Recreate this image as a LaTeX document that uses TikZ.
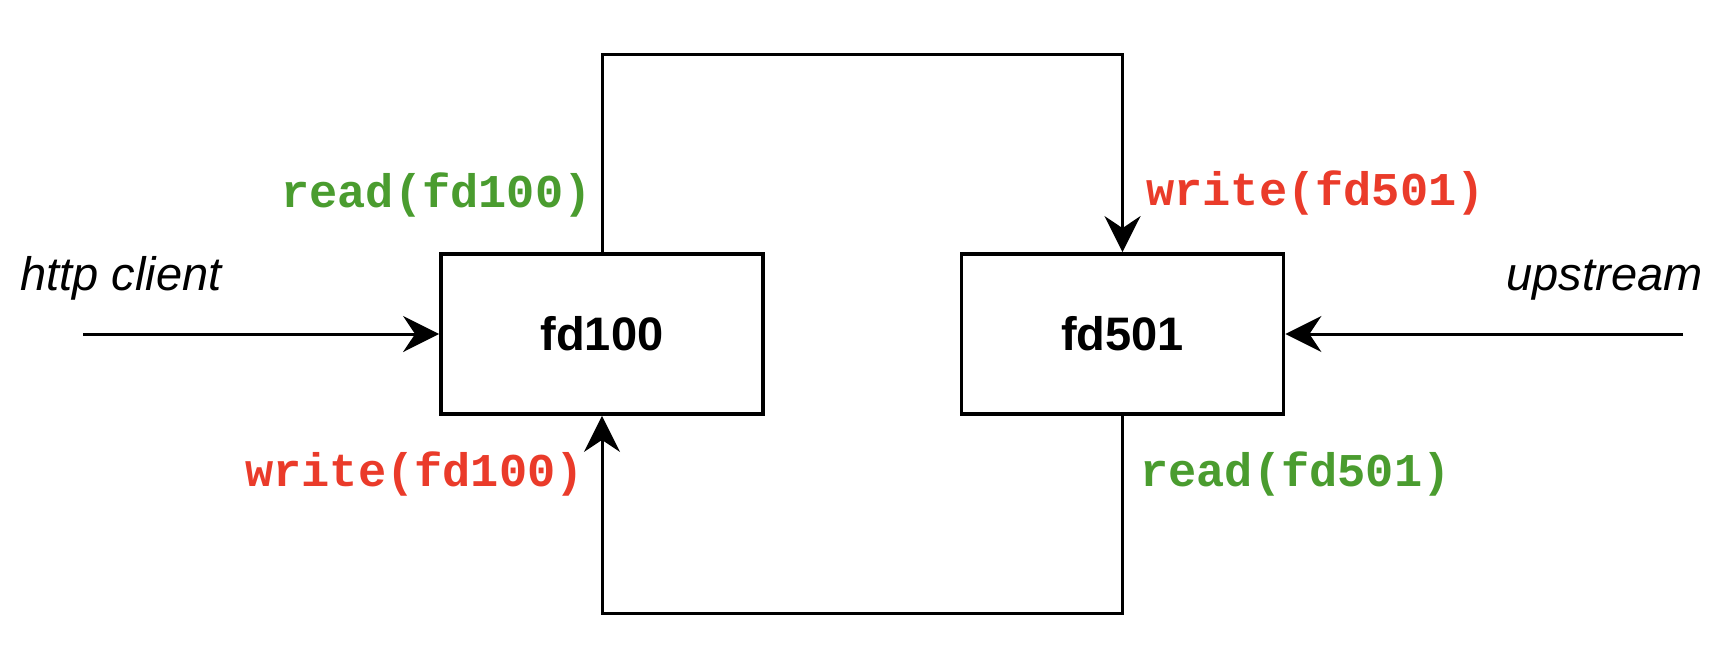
\documentclass[tikz,border=0pt]{standalone}
\usepackage{fontspec}
\setmainfont{Liberation Sans}
\setsansfont{Liberation Sans}
\setmonofont{Liberation Mono}
\usetikzlibrary{arrows.meta}
\definecolor{rdgreen}{HTML}{4A9C2F}
\definecolor{wrred}{HTML}{EA3B2A}
\tikzset{
  fdbox/.style={draw=black, line width=1.9pt, minimum width=161pt, minimum height=80pt, inner sep=0pt, font=\fontsize{23.5}{28}\selectfont\bfseries},
  conn/.style={line width=1.5pt, -{Stealth[length=18pt, width=18pt, inset=6pt]}},
  lbl/.style={inner sep=0pt, font=\fontsize{23.5}{28}\selectfont\itshape},
  rdlbl/.style={inner sep=0pt, text=rdgreen, font=\fontsize{23.5}{28}\selectfont\ttfamily\bfseries},
  wrlbl/.style={inner sep=0pt, text=wrred, font=\fontsize{23.5}{28}\selectfont\ttfamily\bfseries}
}
\begin{document}
\begin{tikzpicture}[x=0.5pt, y=-0.5pt]
\useasboundingbox (0,0) rectangle (1730,650);
\node[fdbox] (fd100) at (602,334) {fd100};
\node[fdbox] (fd501) at (1122.5,334) {fd501};
\coordinate (topc) at (862,54);
\coordinate (botc) at (862,613);
\coordinate (hc) at (83,334);
\coordinate (us) at (1683,334);
\draw[conn] (fd100.north) |- (topc) -| (fd501.north);
\draw[conn] (fd501.south) |- (botc) -| (fd100.south);
\draw[conn] (hc) -- (fd100.west);
\draw[conn] (us) -- (fd501.east);
\node[lbl, anchor=base west] (hcl) at (20,290) {http client};
\node[lbl, anchor=base east] (usl) at (1703,290) {upstream};
\node[rdlbl, anchor=base] (r100) at (436.5,207) {read(fd100)};
\node[wrlbl, anchor=base] (w501) at (1315.5,205) {write(fd501)};
\node[wrlbl, anchor=base] (w100) at (414.5,486) {write(fd100)};
\node[rdlbl, anchor=base] (r501) at (1295.5,486) {read(fd501)};
\end{tikzpicture}
\end{document}
